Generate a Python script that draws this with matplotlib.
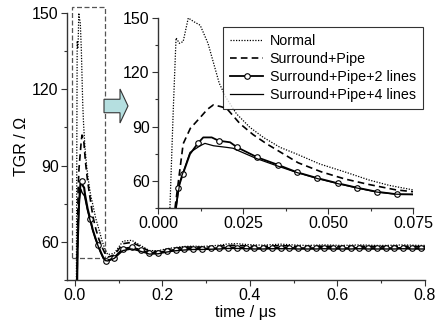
import numpy as np
import matplotlib
matplotlib.use("Agg")
import matplotlib.pyplot as plt
from matplotlib.patches import Rectangle, FancyArrow

plt.rcParams["font.family"] = ["Liberation Sans", "DejaVu Sans"]

# zoomed window, 0 - 0.075 us
t_normal = [0.0035, 0.0045, 0.0053, 0.0063, 0.0074, 0.0089, 0.0105, 0.0124, 0.0147, 0.0165, 0.018,
            0.020, 0.0231, 0.027, 0.031, 0.0359, 0.0408, 0.0476, 0.0555, 0.062, 0.068, 0.075]
y_normal = [45, 100, 139, 136, 137, 150, 148, 146, 136, 124, 114,
            106, 97, 89.6, 84, 78.5, 74.8, 69.3, 64.6, 60.5, 57.5, 55]

t_pipe = [0.005, 0.0074, 0.0095, 0.0124, 0.0145, 0.0163, 0.0185, 0.0202, 0.0241, 0.028, 0.032,
          0.0412, 0.048, 0.055, 0.062, 0.070, 0.075]
y_pipe = [45, 80.5, 89, 95, 99.5, 102, 101, 100, 91.6, 85.5, 80.4,
          70, 65, 61, 58, 55, 54]

t_2lines = [0.0053, 0.006, 0.0073, 0.0094, 0.0117, 0.0133, 0.0158, 0.0178, 0.0212, 0.0233, 0.0292,
            0.0352, 0.0408, 0.0469, 0.0528, 0.0586, 0.0643, 0.0702, 0.075]
y_2lines = [45, 56.3, 63.7, 74.8, 80.7, 84, 84, 82.2, 81.3, 78.5, 73,
            68.9, 64.8, 61.5, 58.7, 56.2, 54, 52.6, 52.5]

t_4lines = [0.0053, 0.0065, 0.0094, 0.0124, 0.0138, 0.0163, 0.0202, 0.0221, 0.0236, 0.029, 0.035,
            0.041, 0.047, 0.053, 0.0586, 0.0643, 0.0702, 0.075]
y_4lines = [45, 60, 75.7, 79.4, 80.7, 79.4, 78.5, 78, 76.7, 72.3, 68.3,
            64.5, 61.2, 58.4, 56, 53.8, 52.6, 52.5]

# rest of the record, 0.09 - 0.8 us
t_late = [0.09, 0.11, 0.13, 0.15, 0.17, 0.19, 0.21, 0.23, 0.25, 0.27, 0.29, 0.31, 0.33,
          0.35, 0.37, 0.39, 0.41, 0.43, 0.45, 0.47, 0.49, 0.51, 0.53, 0.55, 0.57, 0.59,
          0.61, 0.63, 0.65, 0.67, 0.69, 0.71, 0.73, 0.75, 0.77, 0.79, 0.80]
y_normal_late = [55.5, 60.3, 60.6, 58.6, 56.6, 56.5, 57.3, 57.8, 58.2, 58.3, 58.2, 58.4, 58.7,
                 59.2, 59.3, 59.0, 58.8, 58.7, 58.9, 59.1, 58.9, 58.7, 58.6, 58.7, 58.8, 58.7,
                 58.6, 58.7, 58.8, 58.7, 58.6, 58.6, 58.7, 58.8, 58.7, 58.6, 58.6]
y_pipe_late = [54.8, 59.3, 59.8, 58.2, 56.3, 56.2, 57.0, 57.5, 57.9, 58.0, 57.9, 58.0, 58.3,
               58.6, 58.6, 58.4, 58.3, 58.2, 58.4, 58.5, 58.4, 58.2, 58.2, 58.3, 58.3, 58.2,
               58.2, 58.3, 58.3, 58.2, 58.2, 58.2, 58.3, 58.3, 58.2, 58.2, 58.2]
y_2lines_late = [53.8, 57.3, 57.8, 56.8, 55.6, 55.7, 56.4, 56.9, 57.2, 57.3, 57.3, 57.4, 57.5,
                 57.7, 57.7, 57.6, 57.5, 57.5, 57.6, 57.6, 57.6, 57.5, 57.5, 57.5, 57.6, 57.5,
                 57.5, 57.5, 57.6, 57.5, 57.5, 57.5, 57.5, 57.6, 57.5, 57.5, 57.5]
y_4lines_late = [53.5, 56.6, 57.2, 56.3, 55.2, 55.3, 56.0, 56.5, 56.8, 57.0, 57.0, 57.1, 57.2,
                 57.4, 57.4, 57.3, 57.2, 57.2, 57.3, 57.3, 57.3, 57.2, 57.2, 57.2, 57.3, 57.2,
                 57.2, 57.2, 57.3, 57.2, 57.2, 57.2, 57.2, 57.3, 57.2, 57.2, 57.2]

labels = ["Normal", "Surround+Pipe", "Surround+Pipe+2 lines", "Surround+Pipe+4 lines"]

FS = 11.5
fig = plt.figure(figsize=(4.37, 3.26), dpi=100)
ax = fig.add_axes([0.1533, 0.1411, 0.8192, 0.8189])
axin = fig.add_axes([0.3616, 0.362, 0.5835, 0.5828])

# main plot
n_late = len(t_late)
ax.plot(t_normal + t_late, y_normal + y_normal_late, color="k", ls=(0, (1, 1.2)), lw=0.9)
ax.plot(t_pipe + t_late, y_pipe + y_pipe_late, color="k", ls=(0, (4, 2.5)), lw=1.2)
main_marks = [6, 11, 14, 17] + [len(t_2lines) + i for i in range(n_late - 1)]
ax.plot(t_2lines + t_late, y_2lines + y_2lines_late, color="k", lw=1.5, marker="o", ms=4,
        mfc="white", mec="k", mew=0.8, markevery=main_marks)
ax.plot(t_4lines + t_late, y_4lines + y_4lines_late, color="k", lw=1.0)

ax.set_xlim(-0.018, 0.8)
ax.set_ylim(45, 150)
ax.set_xticks([0.0, 0.2, 0.4, 0.6, 0.8])
ax.set_xticks([0.1, 0.3, 0.5, 0.7], minor=True)
ax.set_yticks([60, 90, 120, 150])
ax.set_yticks([45, 75, 105, 135], minor=True)
ax.set_xticklabels(["0.0", "0.2", "0.4", "0.6", "0.8"])
ax.set_xlabel("time / \u03bcs", fontsize=FS, labelpad=1)
ax.set_ylabel("TGR / \u03a9", fontsize=FS, labelpad=2)

# zoom frame and arrow
ax.add_patch(Rectangle((-0.007, 53.7), 0.076, 98.7, fill=False, ec="#555555", ls=(0, (4, 2)),
                       lw=0.9, clip_on=False))
arrow = FancyArrow(104 / 437, 1 - 106 / 326, (120 - 104) / 437, 0,
                   width=13.5 / 326, head_width=34 / 326, head_length=8 / 437,
                   length_includes_head=False, transform=fig.transFigure,
                   fc="#b5dfe0", ec="#333333", lw=0.8)
fig.add_artist(arrow)

# inset
axin.patch.set_alpha(0)
axin.plot(t_normal, y_normal, color="k", ls=(0, (1, 1.2)), lw=0.9, label=labels[0])
axin.plot(t_pipe, y_pipe, color="k", ls=(0, (4, 2.5)), lw=1.2, label=labels[1])
axin.plot(t_2lines, y_2lines, color="k", lw=1.3, marker="o", ms=4, mfc="white", mec="k", mew=0.8,
          markevery=[1, 2, 4, 7, 9, 10, 11, 12, 13, 14, 15, 16, 17], label=labels[2])
axin.plot(t_4lines, y_4lines, color="k", lw=0.9, label=labels[3])
axin.set_xlim(0, 0.075)
axin.set_ylim(45, 150)
axin.set_xticks([0.0, 0.025, 0.05, 0.075])
axin.set_xticks([0.0125, 0.0375, 0.0625], minor=True)
axin.set_xticklabels(["0.000", "0.025", "0.050", "0.075"])
axin.set_yticks([60, 90, 120, 150])
axin.set_yticks([45, 75, 105, 135], minor=True)

for a in (ax, axin):
    for s in ("top", "right"):
        a.spines[s].set_visible(False)
    for s in ("left", "bottom"):
        a.spines[s].set_color("#333333")
        a.spines[s].set_linewidth(1.0)
    a.tick_params(which="major", direction="out", length=4, width=0.8, labelsize=FS, pad=2,
                  color="#333333")
    a.tick_params(which="minor", direction="out", length=2.5, width=0.8, color="#333333")

leg = axin.legend(loc="upper right", bbox_to_anchor=(423 / 437, 1 - 27 / 326),
                  bbox_transform=fig.transFigure, fontsize=10.3, frameon=True,
                  fancybox=False, edgecolor="k", handlelength=2.3, handletextpad=0.45,
                  borderpad=0.5, labelspacing=0.28, borderaxespad=0)
leg.get_frame().set_linewidth(0.8)

fig.savefig("out.png", dpi=100)
